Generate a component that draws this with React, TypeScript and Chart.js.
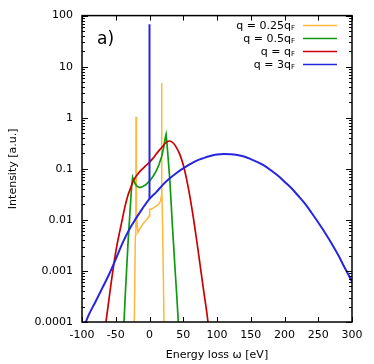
import React, { useEffect, useRef } from 'react';
import { Chart, registerables } from 'chart.js';

Chart.register(...registerables);

const xTicks = [-100, -50, 0, 50, 100, 150, 200, 250, 300];
const yTicks = [0.0001, 0.001, 0.01, 0.1, 1, 10, 100];
const yTickLabels = ['0.0001', '0.001', '0.01', '0.1', '1', '10', '100'];

const legendLabels = ['q = 0.25q', 'q = 0.5q', 'q = q', 'q = 3q'];
const legendSubs = ['F', 'F', 'F', 'F'];
const seriesColors = ['#ffb83c', '#109a10', '#cc0000', '#2626e0'];

const orangeX = [-23.5, -22.5, -21, -20.2, -20, -19.8, -19, -18, -17, -14, -10, -6, -2, -0.3, 0.3, 4, 8, 12, 14.5, 16.5, 17.7, 18, 18.3, 19.5, 21.5, 22.5];
const orangeY = [0.00005, 0.0001, 0.005, 0.05, 1.05, 0.05, 0.012, 0.0075, 0.0057, 0.0068, 0.0083, 0.0095, 0.011, 0.012, 0.016, 0.0165, 0.018, 0.0195, 0.021, 0.024, 0.03, 4.8, 0.05, 0.006, 0.0001, 0.00005];

const greenX = [-39, -37.8, -36, -34, -32, -30, -28, -26.5, -25, -23.5, -21, -18, -14, -10, -6, -2, 2, 6, 10, 14, 18, 21, 23, 24.5, 26, 28, 30, 32, 34, 36, 38, 40, 42.7, 44];
const greenY = [0.00005, 0.0001, 0.00032, 0.001, 0.0032, 0.0085, 0.022, 0.044, 0.068, 0.06, 0.05, 0.045, 0.043, 0.045, 0.048, 0.054, 0.062, 0.074, 0.091, 0.12, 0.174, 0.26, 0.38, 0.47, 0.3, 0.14, 0.063, 0.022, 0.0074, 0.0028, 0.001, 0.0004, 0.0001, 0.00005];

const redX = [-66, -64.5, -60, -56, -52, -48, -44, -40, -36, -32, -28, -24, -20, -16, -12, -8, -4, 0, 5, 10, 15, 20, 25, 30, 35, 40, 45, 50, 55, 60, 65, 70, 75, 80, 85, 88];
const redY = [0.00007, 0.0001, 0.00028, 0.0007, 0.0016, 0.0033, 0.006, 0.0107, 0.019, 0.03, 0.042, 0.058, 0.071, 0.083, 0.095, 0.107, 0.12, 0.135, 0.16, 0.195, 0.235, 0.28, 0.33, 0.35, 0.32, 0.26, 0.19, 0.12, 0.062, 0.028, 0.011, 0.0039, 0.0013, 0.00043, 0.00015, 0.00007];

const blueX = [-96, -90, -80, -70, -60, -50, -40, -30, -20, -10, 0, 10, 20, 30, 40, 50, 60, 70, 80, 90, 100, 110, 120, 130, 140, 150, 160, 170, 180, 190, 200, 210, 220, 230, 240, 250, 260, 270, 280, 290, 300];
const blueY = [0.000088, 0.000138, 0.00025, 0.00046, 0.00085, 0.0017, 0.0035, 0.0065, 0.0107, 0.017, 0.0257, 0.035, 0.049, 0.065, 0.083, 0.102, 0.123, 0.145, 0.162, 0.178, 0.19, 0.195, 0.193, 0.186, 0.174, 0.155, 0.135, 0.115, 0.093, 0.074, 0.056, 0.042, 0.03, 0.021, 0.0138, 0.0089, 0.0056, 0.0034, 0.002, 0.0011, 0.00062];
const blueSpikeX = [0, 0];
const blueSpikeY = [0.0257, 68];

const FONT = '"DejaVu Sans", sans-serif';

const zip = (xs: number[], ys: number[]) => xs.map((x, i) => ({ x, y: ys[i] }));

const framePlugin = {
  id: 'frameTicks',
  afterDatasetsDraw(chart: any) {
    const { ctx, chartArea, scales } = chart;
    const { left, right, top, bottom } = chartArea;
    const xs = scales.x;
    const ys = scales.y;
    ctx.save();
    ctx.strokeStyle = '#000';
    ctx.lineWidth = 1;
    ctx.beginPath();
    for (const v of xTicks) {
      const px = Math.round(xs.getPixelForValue(v)) + 0.5;
      ctx.moveTo(px, bottom);
      ctx.lineTo(px, bottom - 5);
      ctx.moveTo(px, top);
      ctx.lineTo(px, top + 5);
    }
    for (let e = -4; e <= 2; e++) {
      for (let d = 1; d <= 9; d++) {
        const v = d * Math.pow(10, e);
        if (v > 100.0001) break;
        const py = Math.round(ys.getPixelForValue(v)) + 0.5;
        const len = d === 1 ? 6 : 3;
        ctx.moveTo(left, py);
        ctx.lineTo(left + len, py);
        ctx.moveTo(right, py);
        ctx.lineTo(right - len, py);
      }
    }
    ctx.stroke();
    ctx.lineWidth = 1.5;
    ctx.strokeRect(left, top, right - left, bottom - top);
    ctx.restore();
  },
  afterDraw(chart: any) {
    const { ctx } = chart;
    ctx.save();
    ctx.fillStyle = '#000';
    ctx.font = `17px ${FONT}`;
    ctx.textAlign = 'left';
    ctx.textBaseline = 'alphabetic';
    ctx.fillText('a)', 97, 44);
    const xr = 295;
    for (let i = 0; i < legendLabels.length; i++) {
      const y = 25 + i * 13;
      ctx.font = `7px ${FONT}`;
      const sw = ctx.measureText(legendSubs[i]).width;
      ctx.textAlign = 'left';
      ctx.fillStyle = '#000';
      ctx.fillText(legendSubs[i], xr - sw, y + 5);
      ctx.font = `11px ${FONT}`;
      ctx.textAlign = 'right';
      ctx.fillText(legendLabels[i], xr - sw, y + 3.5);
      ctx.strokeStyle = seriesColors[i];
      ctx.lineWidth = 1.5;
      ctx.beginPath();
      ctx.moveTo(303, y + 0.5);
      ctx.lineTo(337, y + 0.5);
      ctx.stroke();
    }
    ctx.restore();
  },
};

export default function App() {
  const ref = useRef<HTMLCanvasElement | null>(null);
  useEffect(() => {
    document.body.style.margin = '0';
    const canvas = ref.current;
    if (!canvas) return;
    const font = { family: FONT, size: 11 };
    const chart = new Chart(canvas, {
      type: 'scatter',
      data: {
        datasets: [
          { label: 'q = 0.25qF', data: zip(orangeX, orangeY), borderColor: seriesColors[0], backgroundColor: seriesColors[0], borderWidth: 1.5, pointRadius: 0, showLine: true, tension: 0, order: 4 },
          { label: 'q = 0.5qF', data: zip(greenX, greenY), borderColor: seriesColors[1], backgroundColor: seriesColors[1], borderWidth: 1.7, pointRadius: 0, showLine: true, tension: 0, order: 3 },
          { label: 'q = qF', data: zip(redX, redY), borderColor: seriesColors[2], backgroundColor: seriesColors[2], borderWidth: 1.7, pointRadius: 0, showLine: true, cubicInterpolationMode: 'monotone', order: 2 },
          { label: 'q = 3qF', data: zip(blueX, blueY), borderColor: seriesColors[3], backgroundColor: seriesColors[3], borderWidth: 2, pointRadius: 0, showLine: true, cubicInterpolationMode: 'monotone', order: 1 },
          { label: 'q = 3qF spike', data: zip(blueSpikeX, blueSpikeY), borderColor: seriesColors[3], backgroundColor: seriesColors[3], borderWidth: 2, pointRadius: 0, showLine: true, tension: 0, order: 0 },
        ],
      } as any,
      options: {
        responsive: false,
        animation: false,
        devicePixelRatio: 1,
        layout: { padding: { left: 0, top: 14, right: 22, bottom: 0 } },
        plugins: { legend: { display: false }, tooltip: { enabled: false } },
        scales: {
          x: {
            type: 'linear',
            min: -100,
            max: 300,
            afterBuildTicks: (s: any) => { s.ticks = xTicks.map((v) => ({ value: v })); },
            afterFit: (s: any) => { s.height = 42; },
            ticks: { font, color: '#000', padding: 7, maxRotation: 0, autoSkip: false },
            grid: { display: false, drawTicks: false },
            border: { display: false },
            title: { display: true, text: 'Energy loss ω [eV]', font, color: '#000', padding: { top: 0, bottom: 2.5 } },
          },
          y: {
            type: 'logarithmic',
            min: 0.0001,
            max: 100,
            afterBuildTicks: (s: any) => { s.ticks = yTicks.map((v) => ({ value: v })); },
            afterFit: (s: any) => { s.width = 82; },
            ticks: {
              font, color: '#000', padding: 9, autoSkip: false,
              callback: (v: any) => {
                const i = yTicks.findIndex((t) => Math.abs(t - Number(v)) / t < 1e-6);
                return i >= 0 ? yTickLabels[i] : '';
              },
            },
            grid: { display: false, drawTicks: false },
            border: { display: false },
            title: { display: true, text: 'Intensity [a.u.]', font, color: '#000', padding: { top: 6.4, bottom: 0 } },
          },
        },
      } as any,
      plugins: [framePlugin],
    });
    return () => chart.destroy();
  }, []);
  return (
    <div style={{ width: 374, height: 364 }}>
      <canvas ref={ref} width={374} height={364} style={{ display: 'block' }} />
    </div>
  );
}
